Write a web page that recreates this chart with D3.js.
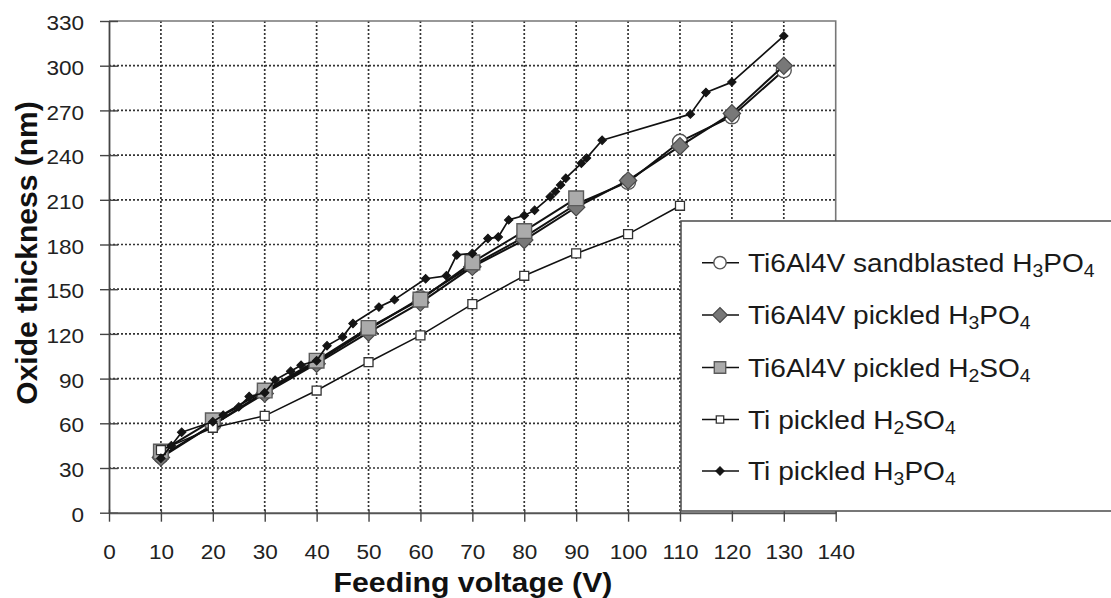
<!DOCTYPE html>
<html>
<head>
<meta charset="utf-8">
<script src="https://cdn.jsdelivr.net/npm/d3@7"></script>
<style>
  html, body { margin: 0; padding: 0; background: #fff; }
  svg { display: block; font-family: "Liberation Sans", Arial, sans-serif; }
</style>
</head>
<body>
<svg id="chart" width="1111" height="598"></svg>
<script>
// Axis ticks
const xTicks = [0, 10, 20, 30, 40, 50, 60, 70, 80, 90, 100, 110, 120, 130, 140];
const yTicks = [0, 30, 60, 90, 120, 150, 180, 210, 240, 270, 300, 330];

// Ti6Al4V sandblasted, H3PO4
const sandH3PO4Volt = [10, 20, 30, 40, 50, 60, 70, 80, 90, 100, 110, 120, 130];
const sandH3PO4Nm   = [38, 59, 81, 101, 123, 144, 166, 185, 207, 222, 249, 266, 297];

// Ti6Al4V pickled, H3PO4
const alloyH3PO4Volt = [10, 20, 30, 40, 50, 60, 70, 80, 90, 100, 110, 120, 130];
const alloyH3PO4Nm   = [37, 59, 80, 100, 121, 141, 165, 183, 205, 223, 246, 268, 300];

// Ti6Al4V pickled, H2SO4
const alloyH2SO4Volt = [10, 20, 30, 40, 50, 60, 70, 80, 90];
const alloyH2SO4Nm   = [41, 62, 82, 102, 124, 143, 168, 189, 211];

// Ti pickled, H2SO4
const tiH2SO4Volt = [10, 20, 30, 40, 50, 60, 70, 80, 90, 100, 110];
const tiH2SO4Nm   = [42, 57, 65, 82, 101, 119, 140, 159, 174, 187, 206];

// Ti pickled, H3PO4
const tiH3PO4Volt = [10, 12, 14, 20, 22, 25, 27, 30, 32, 35, 37, 40, 42, 45, 47, 52, 55, 61, 65, 67, 70,
                     73, 75, 77, 80, 82, 85, 86, 87, 88, 91, 92, 95, 112, 115, 120, 130];
const tiH3PO4Nm   = [36.5, 45, 54, 61, 65.5, 71, 78, 80.5, 89, 95, 99, 102, 112, 118, 127, 138, 143, 157, 159, 173, 174,
                     184, 185, 196.5, 199.5, 203, 212, 215.5, 220, 224.5, 234.5, 238, 250, 267.5, 282, 289, 320];

const seriesNames = [
  ["Ti6Al4V sandblasted H", "3", "PO", "4"],
  ["Ti6Al4V pickled H", "3", "PO", "4"],
  ["Ti6Al4V pickled H", "2", "SO", "4"],
  ["Ti pickled H", "2", "SO", "4"],
  ["Ti pickled H", "3", "PO", "4"]
];

const svg = d3.select("#chart");
const plotLeft = 109, plotRight = 835.7, plotTop = 21, plotBottom = 512.7;
const x = d3.scaleLinear().domain([0, 140]).range([plotLeft, plotRight]);
const y = d3.scaleLinear().domain([0, 330]).range([plotBottom, plotTop]);
const stretch = 1.1;

// marker shapes (diamonds are squares turned by 45 degrees)
const markers = [
  { shape: d3.symbolCircle, size: 175, rot: 0,  fill: "#fff",    stroke: "#555",    sw: 1.4 },
  { shape: d3.symbolSquare, size: 150, rot: 45, fill: "#787878", stroke: "#4a4a4a", sw: 1.2 },
  { shape: d3.symbolSquare, size: 215, rot: 0,  fill: "#ababab", stroke: "#5c5c5c", sw: 1.4 },
  { shape: d3.symbolSquare, size: 80,  rot: 0,  fill: "#fff",    stroke: "#333",    sw: 1.3 },
  { shape: d3.symbolSquare, size: 36,  rot: 45, fill: "#151515", stroke: "#151515", sw: 1 }
];

const series = [
  { volt: sandH3PO4Volt, nm: sandH3PO4Nm, lw: 2 },
  { volt: alloyH3PO4Volt, nm: alloyH3PO4Nm, lw: 2 },
  { volt: alloyH2SO4Volt, nm: alloyH2SO4Nm, lw: 2 },
  { volt: tiH2SO4Volt, nm: tiH2SO4Nm, lw: 1.5 },
  { volt: tiH3PO4Volt, nm: tiH3PO4Nm, lw: 1.7 }
];

// gridlines
const grid = svg.append("g").attr("stroke", "#333").attr("stroke-width", 1.7)
  .attr("stroke-dasharray", "2,2");
grid.selectAll("line.v").data(xTicks.filter(d => d > 0 && d < 140)).join("line")
  .attr("class", "v")
  .attr("x1", d => x(d)).attr("x2", d => x(d)).attr("y1", plotTop).attr("y2", plotBottom);
grid.selectAll("line.h").data(yTicks.filter(d => d > 0 && d < 330)).join("line")
  .attr("class", "h")
  .attr("x1", plotLeft).attr("x2", plotRight).attr("y1", d => y(d)).attr("y2", d => y(d));

// frame (top and right)
svg.append("path")
  .attr("d", `M${plotLeft},${plotTop}H${plotRight}V${plotBottom}`)
  .attr("fill", "none").attr("stroke", "#777").attr("stroke-width", 1.6);

// y axis
const yAxis = svg.append("g").attr("transform", `translate(${plotLeft},0)`)
  .call(d3.axisLeft(y).tickValues(yTicks).tickSizeInner(9).tickSizeOuter(0).tickPadding(0));
yAxis.select(".domain").attr("stroke", "#444").attr("stroke-width", 1.8);
yAxis.selectAll(".tick line").attr("x1", 9).attr("stroke", "#444").attr("stroke-width", 1.4);
yAxis.selectAll(".tick text")
  .attr("x", -25 / stretch).attr("dy", "0.42em")
  .attr("transform", `scale(${stretch},1)`)
  .attr("font-size", 20.5).attr("fill", "#222")
  .attr("font-family", "'Liberation Sans', Arial, sans-serif");

// x axis
const xAxis = svg.append("g").attr("transform", `translate(0,${plotBottom})`)
  .call(d3.axisBottom(x).tickValues(xTicks).tickSizeInner(9).tickSizeOuter(0));
xAxis.select(".domain").attr("stroke", "#555").attr("stroke-width", 2);
xAxis.selectAll(".tick line").attr("y1", -3).attr("stroke", "#444").attr("stroke-width", 1.4);
xAxis.selectAll(".tick text")
  .attr("y", 46.5).attr("dy", 0)
  .attr("transform", `scale(${stretch},1)`)
  .attr("font-size", 20.5).attr("fill", "#222")
  .attr("font-family", "'Liberation Sans', Arial, sans-serif");

// series lines and markers
const line = d3.line().x(d => x(d[0])).y(d => y(d[1]));
series.forEach((s, i) => {
  const pts = s.volt.map((v, k) => [v, s.nm[k]]);
  svg.append("path").datum(pts).attr("d", line)
    .attr("fill", "none").attr("stroke", "#111").attr("stroke-width", s.lw)
    .attr("stroke-linejoin", "round");
  const m = markers[i];
  svg.append("g").selectAll("path").data(pts).join("path")
    .attr("transform", d => `translate(${x(d[0])},${y(d[1])}) rotate(${m.rot})`)
    .attr("d", d3.symbol().type(m.shape).size(m.size))
    .attr("fill", m.fill).attr("stroke", m.stroke).attr("stroke-width", m.sw);
});

// axis titles
svg.append("text")
  .attr("transform", `translate(473,592) scale(1.12,1)`)
  .attr("text-anchor", "middle").attr("font-size", 27).attr("font-weight", "bold")
  .attr("fill", "#111").text("Feeding voltage (V)");
svg.append("text")
  .attr("transform", `translate(37,253) rotate(-90)`)
  .attr("text-anchor", "middle").attr("font-size", 30).attr("font-weight", "bold")
  .attr("fill", "#111").text("Oxide thickness (nm)");

// legend
const legend = svg.append("g");
legend.append("rect").attr("x", 681).attr("y", 221).attr("width", 450).attr("height", 290)
  .attr("fill", "#fff").attr("stroke", "#555").attr("stroke-width", 1.6);
const rowBase = [271.7, 324, 376.5, 428.5, 480];
const legendSizes = [120, 110, 130, 55, 36];
seriesNames.forEach((parts, i) => {
  const cy = rowBase[i] - 9;
  const row = legend.append("g");
  row.append("line").attr("x1", 702).attr("x2", 739).attr("y1", cy).attr("y2", cy)
    .attr("stroke", "#111").attr("stroke-width", 1.6);
  const m = markers[i];
  row.append("path").attr("transform", `translate(720,${cy}) rotate(${m.rot})`)
    .attr("d", d3.symbol().type(m.shape).size(legendSizes[i]))
    .attr("fill", m.fill).attr("stroke", m.stroke).attr("stroke-width", m.sw);
  const t = row.append("text")
    .attr("transform", `translate(748,${rowBase[i]}) scale(1.08,1)`)
    .attr("font-size", 26).attr("fill", "#1a1a1a");
  t.append("tspan").text(parts[0]);
  t.append("tspan").attr("font-size", 18).attr("dy", 5).text(parts[1]);
  t.append("tspan").attr("dy", -5).text(parts[2]);
  t.append("tspan").attr("font-size", 18).attr("dy", 5).text(parts[3]);
});
</script>
</body>
</html>
